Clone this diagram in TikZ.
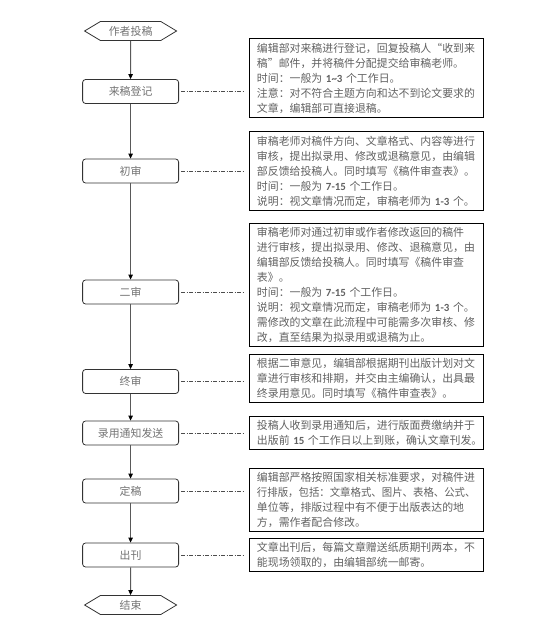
\documentclass[tikz,border=0pt]{standalone}
\usepackage{fontspec}
\usepackage{graphicx}
\setmainfont{Noto Sans CJK SC}
\newfontfamily\lat{Carlito}
\newcommand\num[1]{{\lat\bfseries #1}}
\usetikzlibrary{arrows.meta,shapes.symbols}
\begin{document}
\begin{tikzpicture}[x=1bp,y=-1bp,
  every node/.style={font=\fontsize{10.9bp}{15bp}\selectfont},
  stepbox/.style={draw=black!80, line width=0.8bp, rounded corners=3bp, minimum width=96bp, minimum height=24bp, text=black!55, inner sep=0pt},
  term/.style={draw=black!80, line width=0.8bp, signal, signal to=west and east, signal pointer angle=62, minimum width=92bp, minimum height=19bp, text=black!55, inner sep=0pt},
  note/.style={draw=black, line width=0.9bp, text width=219bp, inner xsep=7.5bp, inner ysep=4bp, align=left, anchor=north west, text=black!62},
  flow/.style={draw=black!65, line width=0.9bp, -{Triangle[length=5bp,width=4.5bp,black]}},
  link/.style={draw=black!70, line width=0.6bp, dash pattern=on 4bp off 1.5bp on 1bp off 1.5bp, shorten <=2bp, shorten >=6bp}]
\useasboundingbox (0,0) rectangle (541,625);

\node[term] (start) at (130.6,31) {作者投稿};
\node[stepbox] (s1) at (130.6,91.5) {来稿登记};
\node[stepbox] (s2) at (130.6,171) {初审};
\node[stepbox] (s3) at (130.6,292) {二审};
\node[stepbox] (s4) at (130.6,381.5) {终审};
\node[stepbox] (s5) at (130.6,433) {录用通知发送};
\node[stepbox] (s6) at (130.6,491) {定稿};
\node[stepbox] (s7) at (130.6,555) {出刊};
\node[term] (stop) at (130.6,605) {结束};

\draw[flow] (start) -- (s1);
\draw[flow] (s1) -- (s2);
\draw[flow] (s2) -- (s3);
\draw[flow] (s3) -- (s4);
\draw[flow] (s4) -- (s5);
\draw[flow] (s5) -- (s6);
\draw[flow] (s6) -- (s7);
\draw[flow] (s7) -- (stop);

\node[note] (n1) at (249,38.5) {编辑部对来稿进行登记，回复投稿人“收到来\\稿”邮件，并将稿件分配提交给审稿老师。\\\mbox{时间：一般为 \num{1\char"7E 3} 个工作日。}\\注意：对不符合主题方向和达不到论文要求的\\文章，编辑部可直接退稿。};
\node[note] (n2) at (249,131.5) {审稿老师对稿件方向、文章格式、内容等进行\\审核，提出拟录用、修改或退稿意见，由编辑\\部反馈给投稿人。同时填写《稿件审查表》。\\\mbox{时间：一般为 \num{7-15} 个工作日。}\\\mbox{说明：视文章情况而定，审稿老师为 \num{1-3} 个。}};
\node[note] (n3) at (249,223) {审稿老师对通过初审或作者修改返回的稿件\\进行审核，提出拟录用、修改、退稿意见，由\\编辑部反馈给投稿人。同时填写《稿件审查\\表》。\\\mbox{时间：一般为 \num{7-15} 个工作日。}\\\mbox{说明：视文章情况而定，审稿老师为 \num{1-3} 个。}\\需修改的文章在此流程中可能需多次审核、修\\改，直至结果为拟录用或退稿为止。};
\node[note] (n4) at (249,354) {根据二审意见，编辑部根据期刊出版计划对文\\章进行审核和排期，并交由主编确认，出具最\\终录用意见。同时填写《稿件审查表》。};
\node[note] (n5) at (249,416) {投稿人收到录用通知后，进行版面费缴纳并于\\\mbox{出版前 \num{15} 个工作日以上到账，确认文章刊发。}};
\node[note] (n6) at (249,468) {编辑部严格按照国家相关标准要求，对稿件进\\\scalebox{0.955}[1]{行排版，包括：文章格式、图片、表格、公式、}\\单位等，排版过程中有不便于出版表达的地\\方，需作者配合修改。};
\node[note] (n7) at (249,538) {文章出刊后，每篇文章赠送纸质期刊两本，不\\能现场领取的，由编辑部统一邮寄。};

\draw[link] (s1.east) -- (s1.east -| n1.west);
\draw[link] (s2.east) -- (s2.east -| n2.west);
\draw[link] (s3.east) -- (s3.east -| n3.west);
\draw[link] (s4.east) -- (s4.east -| n4.west);
\draw[link] (s5.east) -- (s5.east -| n5.west);
\draw[link] (s6.east) -- (s6.east -| n6.west);
\draw[link] (s7.east) -- (s7.east -| n7.west);
\end{tikzpicture}
\end{document}
